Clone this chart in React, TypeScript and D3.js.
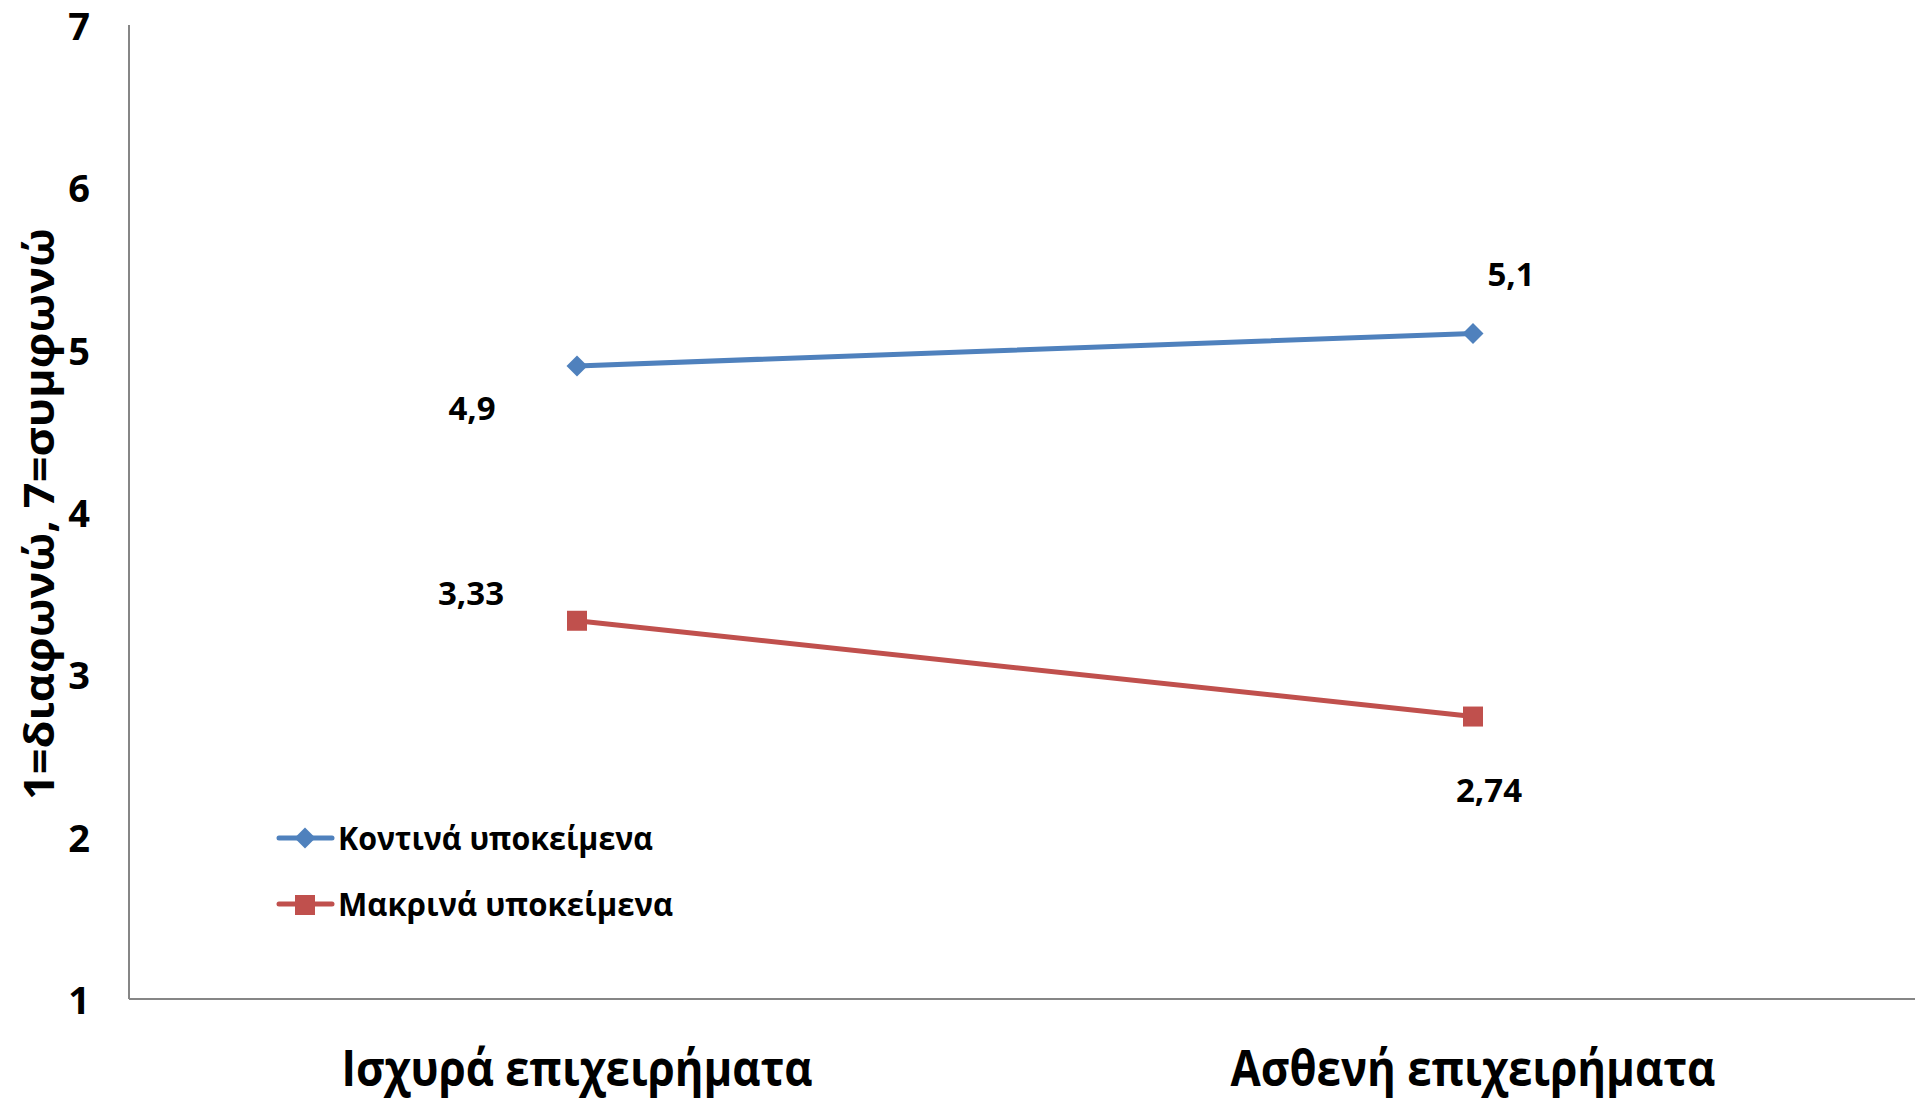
import React from "react";
import * as d3 from "d3";

const categories = ["Ισχυρά επιχειρήματα", "Ασθενή επιχειρήματα"];
const seriesNames = ["Κοντινά υποκείμενα", "Μακρινά υποκείμενα"];
const nearValues = [4.9, 5.1];
const farValues = [3.33, 2.74];
const nearLabels = ["4,9", "5,1"];
const farLabels = ["3,33", "2,74"];
const yTicks = [1, 2, 3, 4, 5, 6, 7];
const yTitle = "1=διαφωνώ, 7=συμφωνώ";

const W = 1915;
const H = 1103;
const FONT = "'Open Sans', 'Noto Sans', sans-serif";
const BLUE = "#4F81BD";
const RED = "#C0504D";
const AXIS = "#868686";

// label placement offsets relative to each point (dx, dy)
const nearLabelOffsets = [
  [-105, 42],
  [38, -60],
];
const farLabelOffsets = [
  [-106, -28],
  [16, 73],
];

export default function App() {
  const left = 129;
  const top = 25;
  const bottom = 999;
  const x = d3.scaleBand<string>().domain(categories).range([left, 1921]).padding(0);
  const y = d3.scaleLinear().domain([1, 7]).range([bottom, top]);
  const cx = (c: string) => (x(c) as number) + x.bandwidth() / 2;

  const line = d3
    .line<number>()
    .x((_, i) => cx(categories[i]))
    .y((d) => y(d));

  const series = [
    { name: seriesNames[0], values: nearValues, labels: nearLabels, offsets: nearLabelOffsets, color: BLUE, marker: "diamond" },
    { name: seriesNames[1], values: farValues, labels: farLabels, offsets: farLabelOffsets, color: RED, marker: "square" },
  ];

  const marker = (type: string, px: number, py: number, color: string, key: string) =>
    type === "diamond" ? (
      <path key={key} d={`M${px},${py - 10.5}L${px + 10.5},${py}L${px},${py + 10.5}L${px - 10.5},${py}Z`} fill={color} />
    ) : (
      <rect key={key} x={px - 10} y={py - 10} width={20} height={20} fill={color} />
    );

  const legendY = [838, 904];

  return (
    <svg
      width={W}
      height={H}
      style={{ position: "absolute", left: 0, top: 0, display: "block", background: "#fff" }}
      fontFamily={FONT}
      fontWeight="bold"
    >
      <rect x={0} y={0} width={W} height={H} fill="#fff" />
      {/* axes */}
      <line x1={left} y1={top} x2={left} y2={bottom} stroke={AXIS} strokeWidth={2} />
      <line x1={left} y1={bottom} x2={W} y2={bottom} stroke={AXIS} strokeWidth={2} />
      {yTicks.map((t) => (
        <text key={t} x={90} y={y(t)} textAnchor="end" dominantBaseline="central" fontSize={38} fill="#000">
          {t}
        </text>
      ))}
      {categories.map((c, i) => (
        <text
          key={c}
          x={cx(c)}
          y={1086}
          textAnchor="middle"
          fontSize={51}
          fill="#000"
          textLength={i === 0 ? 471 : 485}
          lengthAdjust="spacingAndGlyphs"
        >
          {c}
        </text>
      ))}
      <text
        transform={`translate(37,514) rotate(-90)`}
        textAnchor="middle"
        dominantBaseline="central"
        fontSize={42}
        fill="#000"
        textLength={572}
        lengthAdjust="spacingAndGlyphs"
      >
        {yTitle}
      </text>
      {/* series */}
      {series.map((s) => (
        <g key={s.name}>
          <path d={line(s.values) as string} fill="none" stroke={s.color} strokeWidth={5} strokeLinecap="round" />
          {s.values.map((v, i) => marker(s.marker, cx(categories[i]), y(v), s.color, s.name + i))}
          {s.values.map((v, i) => (
            <text
              key={"l" + i}
              x={cx(categories[i]) + s.offsets[i][0]}
              y={y(v) + s.offsets[i][1]}
              textAnchor="middle"
              dominantBaseline="central"
              fontSize={33}
              fill="#000"
            >
              {s.labels[i]}
            </text>
          ))}
        </g>
      ))}
      {/* legend */}
      {series.map((s, i) => (
        <g key={"leg" + i}>
          <line x1={279} y1={legendY[i]} x2={332} y2={legendY[i]} stroke={s.color} strokeWidth={5} strokeLinecap="round" />
          {marker(s.marker, 305, legendY[i] + (i === 0 ? 0 : 1), s.color, "lm" + i)}
          <text
            x={338}
            y={legendY[i] + 12}
            fontSize={33}
            fill="#000"
            textLength={i === 0 ? 315 : 335}
            lengthAdjust="spacingAndGlyphs"
          >
            {s.name}
          </text>
        </g>
      ))}
    </svg>
  );
}
